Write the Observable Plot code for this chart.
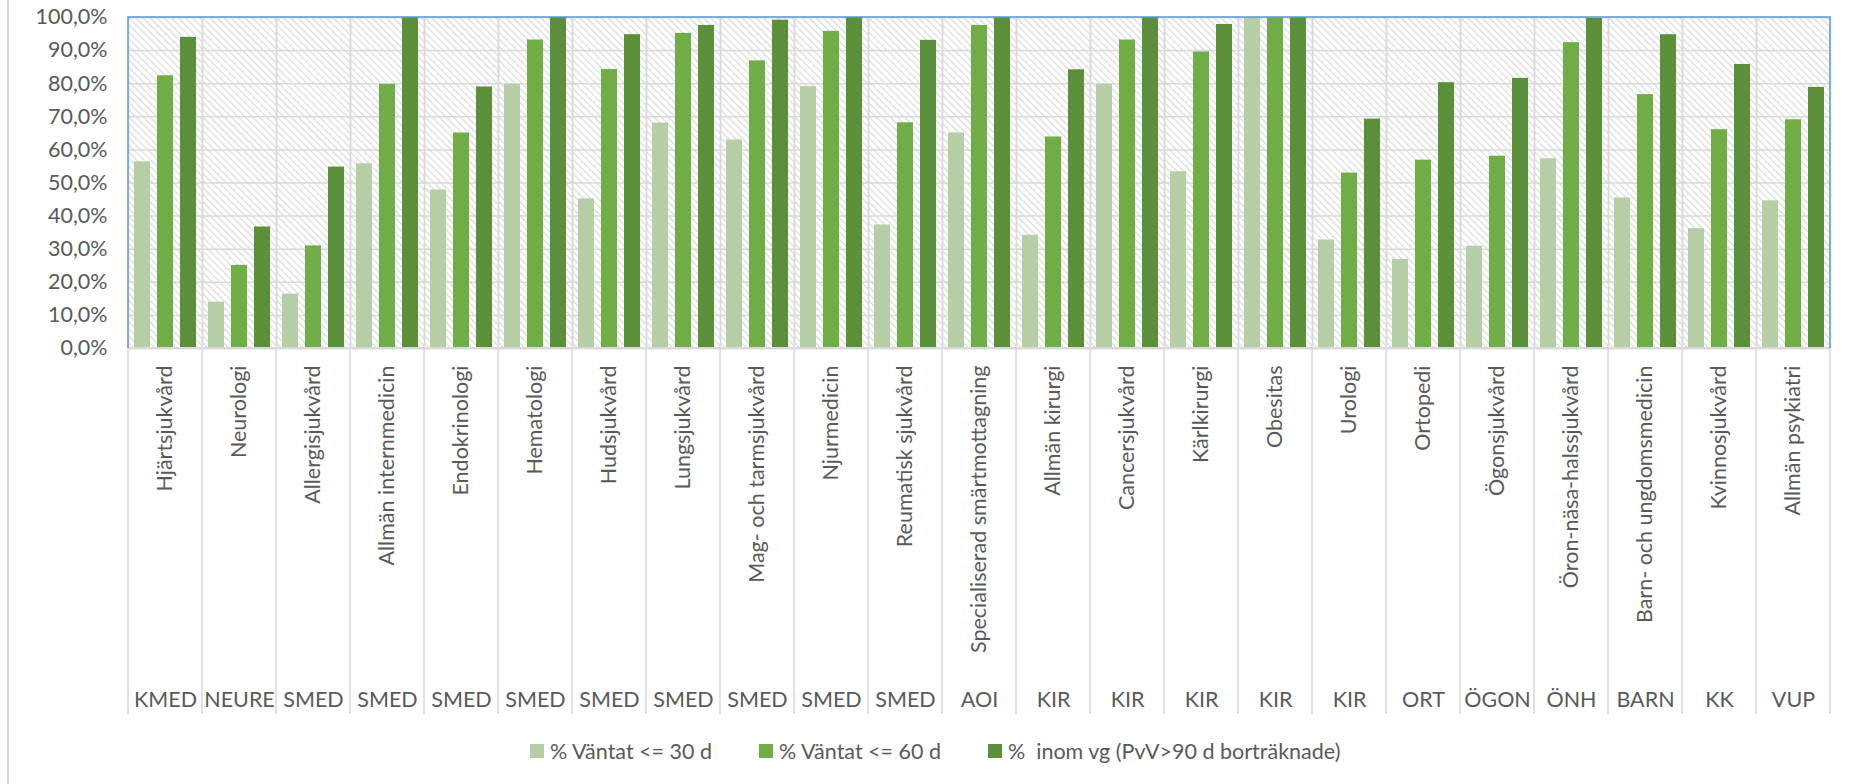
<!DOCTYPE html>
<html lang="sv">
<head>
<meta charset="utf-8">
<title>Väntetider per verksamhet</title>
<script src="https://cdn.jsdelivr.net/npm/d3@7"></script>
<script src="https://cdn.jsdelivr.net/npm/@observablehq/plot@0.6"></script>
<style>
  html, body { margin: 0; padding: 0; background: #fff; }
  #wrap { position: relative; width: 1854px; height: 784px; overflow: hidden; font-family: Lato, "Open Sans", sans-serif; color: #595959; }
  #edge { position: absolute; left: 7px; top: 0; width: 1.5px; height: 784px; background: #d9d9d9; }
  #legend { display: flex; align-items: center; height: 42px; margin-left: 530px; font-size: 21.5px; color: #595959; }
  #legend .item { display: flex; align-items: center; white-space: pre; }
  #legend .sw { width: 14px; height: 14px; margin-right: 6px; flex: none; }
</style>
</head>
<body>
<div id="wrap">
  <div id="chart"></div>
  <div id="legend"></div>
  <div id="edge"></div>
</div>
<script>
// Verksamheter (x-axel) och tillhörande klinik
const categories = [
  "Hjärtsjukvård", "Neurologi", "Allergisjukvård", "Allmän internmedicin", "Endokrinologi",
  "Hematologi", "Hudsjukvård", "Lungsjukvård", "Mag- och tarmsjukvård", "Njurmedicin",
  "Reumatisk sjukvård", "Specialiserad smärtmottagning", "Allmän kirurgi", "Cancersjukvård",
  "Kärlkirurgi", "Obesitas", "Urologi", "Ortopedi", "Ögonsjukvård", "Öron-näsa-halssjukvård",
  "Barn- och ungdomsmedicin", "Kvinnosjukvård", "Allmän psykiatri"
];
const clinics = [
  "KMED", "NEURE", "SMED", "SMED", "SMED", "SMED", "SMED", "SMED", "SMED", "SMED",
  "SMED", "AOI", "KIR", "KIR", "KIR", "KIR", "KIR", "ORT", "ÖGON", "ÖNH", "BARN", "KK", "VUP"
];

// Andel (%) per serie
const waited30 = [56.4, 14.0, 16.4, 55.8, 47.9, 79.8, 45.2, 68.1, 63.0, 79.1, 37.3, 65.1,
                  34.2, 79.8, 53.4, 100, 32.8, 26.9, 30.9, 57.3, 45.5, 36.2, 44.6];
const waited60 = [82.4, 25.1, 31.0, 79.8, 65.1, 93.2, 84.3, 95.2, 86.9, 95.8, 68.2, 97.6,
                  63.9, 93.2, 89.6, 100, 53.0, 56.9, 58.1, 92.4, 76.7, 66.1, 69.1];
const withinGuarantee = [94.0, 36.7, 54.8, 100, 79.0, 100, 94.8, 97.6, 99.2, 100, 93.1, 100,
                  84.2, 100, 97.9, 100, 69.3, 80.3, 81.6, 99.7, 94.8, 85.8, 78.9];

const seriesNames = ["% Väntat <= 30 d", "% Väntat <= 60 d", "%  inom vg (PvV>90 d borträknade)"];
const seriesColors = ["#b5cea6", "#70ad47", "#5b8f3a"];
const yTicks = [0, 10, 20, 30, 40, 50, 60, 70, 80, 90, 100];

const seriesValues = [waited30, waited60, withinGuarantee];
const rows = categories.flatMap((c, i) =>
  seriesNames.map((s, k) => ({category: c, series: s, value: seriesValues[k][i]}))
);

const fmtPct = d => d.toFixed(1).replace(".", ",") + "%";
const grid = "#d9d9d9";
const ink = "#595959";
const fs = 21.5;

const chart = Plot.plot({
  width: 1854,
  height: 730,
  marginLeft: 124,
  marginRight: 20,
  marginTop: 17,
  marginBottom: 382,
  style: {fontFamily: "Lato, 'Open Sans', sans-serif", fontSize: `${fs}px`, color: ink, background: "transparent", overflow: "visible"},
  fx: {domain: categories, padding: 0, label: null, axis: null},
  x: {domain: seriesNames, paddingInner: 0.31, paddingOuter: 0.22, axis: null},
  y: {domain: [0, 100], label: null, axis: null},
  color: {domain: seriesNames, range: seriesColors},
  marks: [
    Plot.frame({fill: "url(#diag-hatch)"}),
    Plot.gridY(yTicks, {stroke: grid, strokeOpacity: 1, strokeWidth: 1.5}),
    Plot.frame({stroke: grid, strokeWidth: 1.5}),
    Plot.barY(rows, {fx: "category", x: "series", y: "value", fill: "series"}),
    Plot.axisY(yTicks, {tickSize: 0, tickPadding: 21, tickFormat: fmtPct, fill: ink, fontSize: fs, label: null}),
    Plot.axisFx({anchor: "bottom", tickRotate: -90, tickSize: 0, tickPadding: 17, fill: ink, fontSize: fs, label: null}),
    Plot.text(categories, {fx: d => d, text: (d, i) => clinics[i], frameAnchor: "bottom", dy: 352, fill: ink, fontSize: fs, lineAnchor: "middle"})
  ]
});

// Diagonal hatch for the plot background
d3.select(chart).insert("defs", ":first-child").html(
  `<pattern id="diag-hatch" patternUnits="userSpaceOnUse" width="5" height="5" patternTransform="rotate(-45)">
     <rect width="5" height="5" fill="#ffffff"/>
     <rect x="0" y="0" width="1.2" height="5" fill="#dadada"/>
   </pattern>`
);

// Category dividers below the axis, and the plot border
const fx = chart.scale("fx");
const y = chart.scale("y");
const yTop = y.apply(100), yBottom = y.apply(0);
const edges = categories.map(c => fx.apply(c));
edges.push(fx.apply(categories[categories.length - 1]) + fx.bandwidth);
const overlay = d3.select(chart).append("g");
overlay.selectAll("line.divider").data(edges).join("line")
  .attr("class", "divider")
  .attr("x1", d => d).attr("x2", d => d)
  .attr("y1", yBottom).attr("y2", yBottom + 366)
  .attr("stroke", grid).attr("stroke-width", 1.5);
overlay.append("line")
  .attr("x1", edges[0]).attr("x2", edges[edges.length - 1])
  .attr("y1", yBottom).attr("y2", yBottom)
  .attr("stroke", grid).attr("stroke-width", 2);
overlay.append("path")
  .attr("d", `M${edges[0]},${yBottom}V${yTop}H${edges[edges.length - 1]}V${yBottom}`)
  .attr("fill", "none").attr("stroke", "#5b9bd5").attr("stroke-width", 1.5);

document.getElementById("chart").append(chart);

// Legend
const legend = d3.select("#legend");
seriesNames.forEach((name, k) => {
  const item = legend.append("div").attr("class", "item");
  if (k < seriesNames.length - 1) item.style("width", "229px");
  item.append("span").attr("class", "sw").style("background", seriesColors[k]);
  item.append("span").text(name);
});
</script>
</body>
</html>
